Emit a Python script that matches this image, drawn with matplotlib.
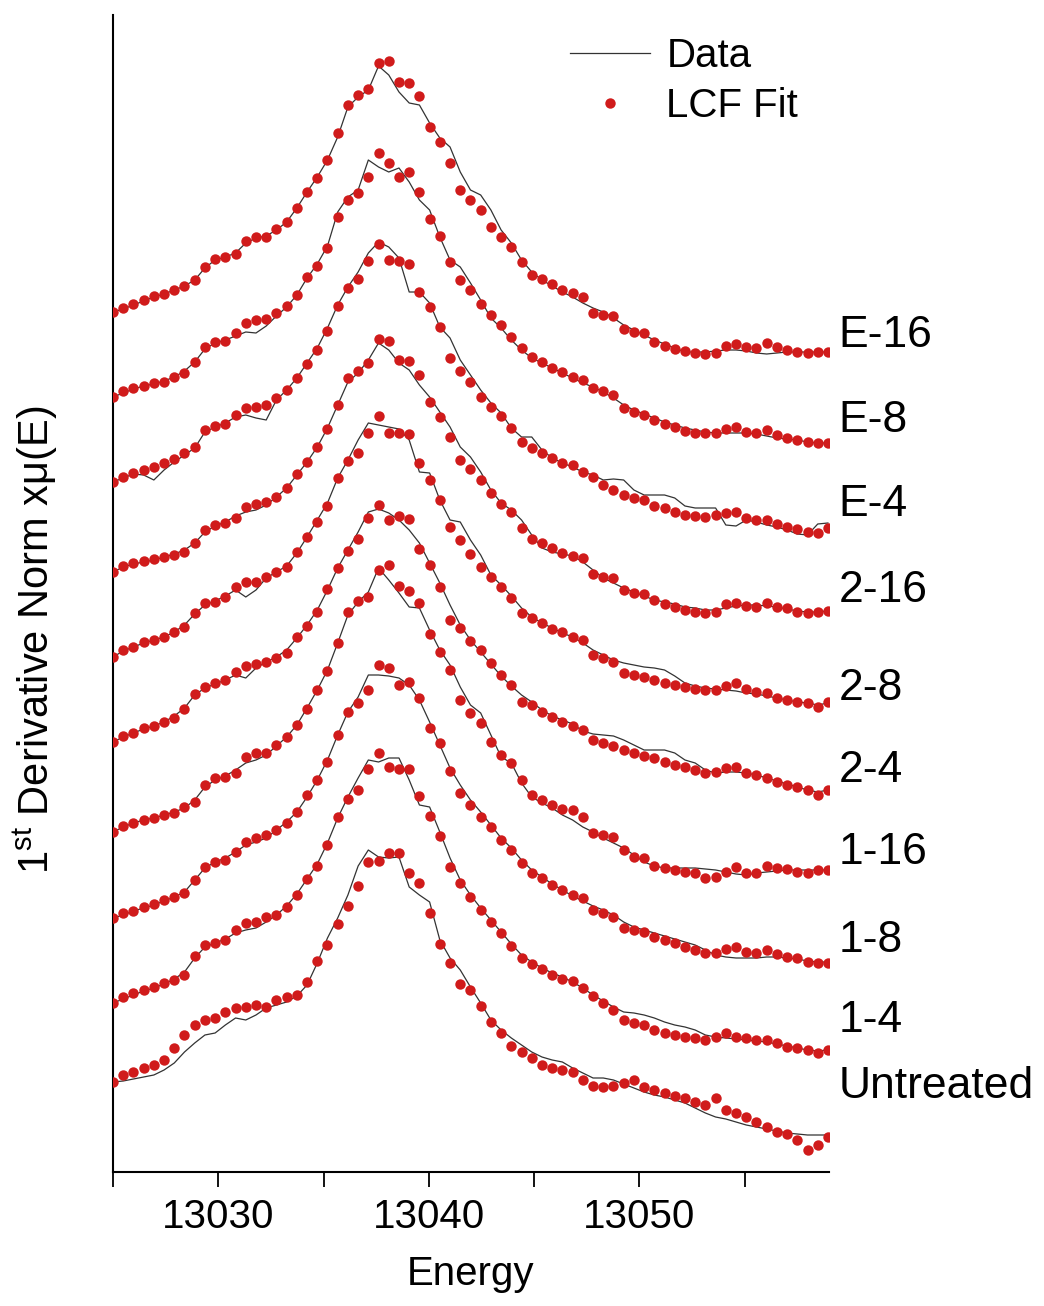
import numpy as np
import matplotlib.pyplot as plt

plt.rcParams['font.family'] = ['Liberation Sans', 'DejaVu Sans']
plt.rcParams['mathtext.fontset'] = 'custom'
plt.rcParams['mathtext.rm'] = 'Liberation Sans'

# energy grid (eV), 71 points
energy = 13025 + 0.485 * np.arange(71)

samples = ["E-16", "E-8", "E-4", "2-16", "2-8", "2-4", "1-16", "1-8", "1-4", "Untreated"]
offsets = [8.60, 7.75, 6.90, 6.00, 5.15, 4.30, 3.40, 2.54, 1.69, 0.90]

# 1st derivative, relative to first point (LCF fit = dots, data = line)
fit_e16 = [0.00, 0.04, 0.08, 0.12, 0.16, 0.18, 0.22, 0.26, 0.32, 0.45,
           0.53, 0.55, 0.58, 0.71, 0.75, 0.75, 0.83, 0.90, 1.04, 1.20,
           1.34, 1.52, 1.79, 2.07, 2.17, 2.23, 2.49, 2.51, 2.30, 2.29,
           2.16, 1.85, 1.70, 1.49, 1.22, 1.12, 1.02, 0.85, 0.75, 0.65,
           0.50, 0.37, 0.33, 0.28, 0.22, 0.19, 0.15, -0.01, -0.03, -0.04,
           -0.17, -0.20, -0.21, -0.30, -0.34, -0.37, -0.39, -0.41, -0.42, -0.41,
           -0.34, -0.32, -0.35, -0.36, -0.31, -0.35, -0.38, -0.40, -0.41, -0.40,
           -0.40]
data_e16 = [0.00, 0.03, 0.07, 0.11, 0.15, 0.18, 0.22, 0.26, 0.32, 0.44,
            0.52, 0.55, 0.59, 0.69, 0.74, 0.76, 0.82, 0.90, 1.04, 1.20,
            1.35, 1.52, 1.75, 2.05, 2.15, 2.22, 2.46, 2.37, 2.20, 2.09,
            2.07, 1.89, 1.74, 1.65, 1.40, 1.22, 1.17, 1.02, 0.82, 0.69,
            0.52, 0.40, 0.32, 0.26, 0.20, 0.15, 0.09, 0.04, 0.00, -0.06,
            -0.13, -0.18, -0.23, -0.28, -0.32, -0.36, -0.40, -0.40, -0.40, -0.39,
            -0.38, -0.38, -0.39, -0.41, -0.42, -0.41, -0.40, -0.40, -0.40, -0.40,
            -0.40]

fit_e8 = [0.00, 0.06, 0.09, 0.11, 0.14, 0.15, 0.20, 0.24, 0.35, 0.50,
          0.55, 0.56, 0.64, 0.74, 0.77, 0.78, 0.84, 0.91, 1.02, 1.20,
          1.31, 1.49, 1.80, 1.97, 2.04, 2.20, 2.44, 2.34, 2.20, 2.25,
          2.05, 1.78, 1.61, 1.35, 1.17, 1.07, 0.93, 0.82, 0.72, 0.60,
          0.49, 0.40, 0.35, 0.29, 0.25, 0.20, 0.17, 0.09, 0.06, 0.02,
          -0.11, -0.15, -0.18, -0.23, -0.27, -0.30, -0.34, -0.36, -0.36, -0.36,
          -0.32, -0.30, -0.35, -0.36, -0.33, -0.38, -0.41, -0.43, -0.45, -0.46,
          -0.46]
data_e8 = [0.00, 0.04, 0.08, 0.11, 0.13, 0.16, 0.20, 0.26, 0.35, 0.48,
           0.54, 0.57, 0.61, 0.65, 0.64, 0.71, 0.81, 0.90, 1.02, 1.19,
           1.33, 1.51, 1.85, 2.00, 2.07, 2.37, 2.30, 2.25, 2.29, 2.15,
           1.97, 1.87, 1.60, 1.37, 1.30, 1.14, 0.97, 0.79, 0.69, 0.57,
           0.47, 0.39, 0.34, 0.29, 0.24, 0.19, 0.14, 0.10, 0.05, -0.01,
           -0.08, -0.13, -0.17, -0.21, -0.25, -0.28, -0.31, -0.33, -0.35, -0.36,
           -0.36, -0.36, -0.36, -0.37, -0.39, -0.41, -0.42, -0.43, -0.45, -0.46,
           -0.46]

fit_e4 = [0.00, 0.05, 0.09, 0.12, 0.15, 0.19, 0.23, 0.29, 0.35, 0.52,
          0.56, 0.58, 0.67, 0.74, 0.75, 0.77, 0.84, 0.92, 1.04, 1.18,
          1.32, 1.51, 1.76, 1.94, 2.03, 2.21, 2.38, 2.22, 2.21, 2.18,
          1.90, 1.75, 1.55, 1.24, 1.11, 1.00, 0.85, 0.75, 0.66, 0.54,
          0.40, 0.34, 0.29, 0.24, 0.19, 0.17, 0.10, 0.05, -0.03, -0.08,
          -0.13, -0.16, -0.18, -0.24, -0.26, -0.30, -0.33, -0.34, -0.35, -0.33,
          -0.31, -0.30, -0.36, -0.38, -0.38, -0.42, -0.45, -0.47, -0.50, -0.51,
          -0.46]
data_e4 = [0.00, 0.04, 0.08, 0.07, 0.02, 0.12, 0.20, 0.27, 0.34, 0.50,
           0.55, 0.59, 0.65, 0.67, 0.64, 0.62, 0.82, 0.92, 1.04, 1.19,
           1.34, 1.54, 1.77, 1.95, 2.10, 2.29, 2.40, 2.35, 2.24, 1.90,
           1.90, 1.79, 1.55, 1.44, 1.22, 1.07, 0.92, 0.79, 0.69, 0.54,
           0.45, 0.45, 0.32, 0.24, 0.19, 0.15, 0.10, 0.07, 0.02, 0.03,
           0.02, -0.08, -0.13, -0.13, -0.13, -0.16, -0.24, -0.26, -0.26, -0.26,
           -0.43, -0.44, -0.38, -0.40, -0.43, -0.45, -0.48, -0.52, -0.53, -0.42,
           -0.41]

fit_216 = [0.00, 0.06, 0.09, 0.11, 0.13, 0.15, 0.17, 0.20, 0.29, 0.42,
           0.47, 0.49, 0.54, 0.65, 0.68, 0.70, 0.75, 0.84, 0.98, 1.10,
           1.25, 1.43, 1.67, 1.94, 2.01, 2.09, 2.33, 2.31, 2.12, 2.11,
           1.97, 1.70, 1.55, 1.35, 1.12, 1.03, 0.92, 0.79, 0.68, 0.60,
           0.44, 0.33, 0.29, 0.24, 0.19, 0.16, 0.14, -0.02, -0.05, -0.06,
           -0.18, -0.21, -0.22, -0.28, -0.32, -0.35, -0.38, -0.40, -0.41, -0.40,
           -0.32, -0.31, -0.34, -0.35, -0.31, -0.35, -0.36, -0.40, -0.41, -0.40,
           -0.39]
data_216 = [0.00, 0.05, 0.08, 0.10, 0.12, 0.15, 0.18, 0.22, 0.29, 0.40,
            0.46, 0.50, 0.56, 0.60, 0.62, 0.67, 0.75, 0.84, 0.97, 1.10,
            1.25, 1.44, 1.67, 1.90, 1.99, 2.12, 2.29, 2.22, 2.09, 2.02,
            1.87, 1.75, 1.60, 1.45, 1.25, 1.15, 1.00, 0.82, 0.69, 0.62,
            0.52, 0.37, 0.24, 0.20, 0.18, 0.16, 0.10, 0.02, -0.06, -0.11,
            -0.16, -0.20, -0.24, -0.28, -0.30, -0.32, -0.35, -0.36, -0.38, -0.38,
            -0.36, -0.34, -0.33, -0.33, -0.34, -0.35, -0.37, -0.39, -0.40, -0.40,
            -0.39]

fit_28 = [0.00, 0.07, 0.10, 0.15, 0.17, 0.20, 0.25, 0.30, 0.44, 0.54,
          0.55, 0.60, 0.70, 0.75, 0.75, 0.80, 0.85, 0.90, 1.05, 1.20,
          1.35, 1.51, 1.79, 1.96, 2.04, 2.24, 2.41, 2.24, 2.24, 2.23,
          1.94, 1.77, 1.57, 1.30, 1.17, 1.03, 0.90, 0.80, 0.70, 0.59,
          0.44, 0.39, 0.34, 0.28, 0.25, 0.20, 0.17, 0.02, -0.01, -0.05,
          -0.16, -0.18, -0.20, -0.23, -0.26, -0.28, -0.30, -0.32, -0.33, -0.33,
          -0.29, -0.26, -0.32, -0.35, -0.36, -0.41, -0.43, -0.45, -0.46, -0.50,
          -0.45]
data_28 = [0.00, 0.06, 0.10, 0.14, 0.17, 0.20, 0.25, 0.32, 0.43, 0.52,
           0.56, 0.61, 0.67, 0.60, 0.67, 0.79, 0.85, 0.91, 1.04, 1.20,
           1.37, 1.54, 1.79, 1.97, 2.17, 2.34, 2.32, 2.30, 2.28, 2.17,
           1.85, 1.84, 1.57, 1.37, 1.35, 1.17, 1.02, 0.82, 0.72, 0.61,
           0.49, 0.40, 0.34, 0.29, 0.24, 0.20, 0.14, 0.07, 0.02, -0.03,
           -0.06, -0.08, -0.10, -0.11, -0.13, -0.19, -0.26, -0.29, -0.31, -0.32,
           -0.33, -0.34, -0.36, -0.37, -0.39, -0.41, -0.43, -0.45, -0.46, -0.48,
           -0.46]

fit_24 = [0.00, 0.06, 0.09, 0.14, 0.16, 0.20, 0.24, 0.33, 0.48, 0.55,
          0.59, 0.62, 0.70, 0.76, 0.78, 0.80, 0.84, 0.89, 1.05, 1.16,
          1.30, 1.53, 1.74, 1.91, 2.03, 2.24, 2.37, 2.22, 2.26, 2.23,
          1.93, 1.77, 1.55, 1.22, 1.14, 1.01, 0.92, 0.79, 0.67, 0.57,
          0.40, 0.37, 0.30, 0.25, 0.20, 0.16, 0.12, 0.02, -0.01, -0.04,
          -0.08, -0.11, -0.14, -0.16, -0.20, -0.23, -0.25, -0.28, -0.31, -0.30,
          -0.26, -0.25, -0.31, -0.33, -0.36, -0.40, -0.43, -0.45, -0.48, -0.53,
          -0.48]
data_24 = [0.00, 0.05, 0.09, 0.13, 0.16, 0.20, 0.26, 0.34, 0.47, 0.54,
           0.58, 0.62, 0.67, 0.64, 0.74, 0.80, 0.85, 0.92, 1.04, 1.17,
           1.32, 1.52, 1.74, 1.92, 2.10, 2.30, 2.33, 2.29, 2.22, 2.12,
           1.99, 1.79, 1.59, 1.37, 1.17, 1.02, 0.90, 0.78, 0.66, 0.56,
           0.47, 0.40, 0.32, 0.26, 0.22, 0.18, 0.11, 0.08, 0.07, 0.06,
           0.02, -0.03, -0.08, -0.08, -0.08, -0.11, -0.18, -0.21, -0.28, -0.31,
           -0.30, -0.30, -0.31, -0.33, -0.36, -0.39, -0.42, -0.45, -0.48, -0.50,
           -0.48]

fit_116 = [0.00, 0.06, 0.09, 0.12, 0.14, 0.17, 0.19, 0.25, 0.30, 0.47,
           0.54, 0.55, 0.59, 0.75, 0.79, 0.79, 0.87, 0.95, 1.07, 1.23,
           1.42, 1.61, 1.89, 2.20, 2.31, 2.35, 2.62, 2.67, 2.46, 2.41,
           2.29, 1.98, 1.80, 1.62, 1.32, 1.19, 1.09, 0.90, 0.77, 0.69,
           0.52, 0.37, 0.32, 0.27, 0.23, 0.22, 0.15, -0.01, -0.03, -0.05,
           -0.18, -0.25, -0.26, -0.34, -0.36, -0.38, -0.40, -0.41, -0.46, -0.45,
           -0.40, -0.35, -0.41, -0.41, -0.34, -0.36, -0.37, -0.40, -0.41, -0.38,
           -0.38]
data_116 = [0.00, 0.05, 0.09, 0.12, 0.14, 0.17, 0.20, 0.24, 0.32, 0.45,
            0.52, 0.56, 0.62, 0.69, 0.72, 0.77, 0.86, 0.95, 1.07, 1.24,
            1.42, 1.62, 1.89, 2.17, 2.30, 2.40, 2.64, 2.52, 2.39, 2.25,
            2.24, 2.02, 1.82, 1.67, 1.45, 1.27, 1.19, 0.97, 0.75, 0.69,
            0.49, 0.35, 0.29, 0.24, 0.17, 0.12, 0.05, 0.00, -0.06, -0.11,
            -0.16, -0.23, -0.30, -0.34, -0.36, -0.36, -0.36, -0.36, -0.37, -0.38,
            -0.40, -0.42, -0.43, -0.41, -0.40, -0.39, -0.38, -0.38, -0.38, -0.38,
            -0.38]

fit_18 = [0.00, 0.05, 0.07, 0.11, 0.14, 0.18, 0.21, 0.25, 0.38, 0.51,
          0.56, 0.58, 0.66, 0.76, 0.80, 0.83, 0.88, 0.95, 1.06, 1.23,
          1.38, 1.56, 1.83, 2.06, 2.15, 2.28, 2.53, 2.50, 2.33, 2.36,
          2.20, 1.90, 1.75, 1.47, 1.25, 1.13, 1.01, 0.91, 0.78, 0.68,
          0.55, 0.45, 0.40, 0.33, 0.28, 0.23, 0.20, 0.08, 0.05, 0.01,
          -0.10, -0.12, -0.14, -0.19, -0.22, -0.25, -0.29, -0.32, -0.35, -0.35,
          -0.31, -0.29, -0.34, -0.35, -0.32, -0.36, -0.39, -0.40, -0.44, -0.45,
          -0.45]
data_18 = [0.00, 0.03, 0.07, 0.10, 0.13, 0.17, 0.21, 0.26, 0.38, 0.50,
           0.56, 0.60, 0.66, 0.73, 0.76, 0.80, 0.88, 0.96, 1.06, 1.21,
           1.38, 1.58, 1.83, 2.06, 2.21, 2.43, 2.43, 2.42, 2.40, 2.33,
           2.18, 1.96, 1.73, 1.50, 1.33, 1.18, 1.06, 0.93, 0.80, 0.70,
           0.58, 0.48, 0.41, 0.34, 0.28, 0.22, 0.17, 0.12, 0.08, 0.03,
           -0.04, -0.09, -0.12, -0.15, -0.18, -0.21, -0.24, -0.27, -0.32, -0.37,
           -0.39, -0.40, -0.40, -0.40, -0.39, -0.39, -0.40, -0.41, -0.43, -0.44,
           -0.44]

fit_14 = [0.00, 0.06, 0.10, 0.13, 0.16, 0.20, 0.23, 0.28, 0.47, 0.58,
          0.60, 0.63, 0.73, 0.80, 0.81, 0.86, 0.88, 0.96, 1.08, 1.24,
          1.37, 1.58, 1.86, 2.04, 2.13, 2.34, 2.50, 2.36, 2.34, 2.34,
          2.07, 1.87, 1.67, 1.36, 1.20, 1.06, 0.93, 0.81, 0.70, 0.57,
          0.45, 0.39, 0.34, 0.28, 0.24, 0.22, 0.15, 0.07, 0.00, -0.07,
          -0.17, -0.20, -0.22, -0.27, -0.30, -0.32, -0.34, -0.35, -0.37, -0.34,
          -0.30, -0.34, -0.35, -0.37, -0.37, -0.40, -0.44, -0.45, -0.47, -0.50,
          -0.47]
data_14 = [0.00, 0.04, 0.08, 0.12, 0.15, 0.19, 0.24, 0.31, 0.45, 0.56,
           0.60, 0.64, 0.70, 0.73, 0.75, 0.81, 0.88, 0.97, 1.09, 1.24,
           1.39, 1.60, 1.85, 2.06, 2.25, 2.43, 2.41, 2.45, 2.45, 2.23,
           1.98, 1.96, 1.71, 1.45, 1.23, 1.08, 0.95, 0.83, 0.71, 0.59,
           0.48, 0.41, 0.35, 0.30, 0.26, 0.21, 0.15, 0.08, 0.02, -0.04,
           -0.09, -0.10, -0.12, -0.15, -0.19, -0.22, -0.24, -0.27, -0.32, -0.34,
           -0.35, -0.36, -0.37, -0.38, -0.39, -0.41, -0.43, -0.45, -0.47, -0.48,
           -0.47]

fit_untr = [0.00, 0.07, 0.10, 0.14, 0.17, 0.22, 0.34, 0.47, 0.57, 0.62,
            0.64, 0.70, 0.74, 0.75, 0.77, 0.75, 0.82, 0.85, 0.87, 1.00,
            1.21, 1.37, 1.58, 1.76, 1.96, 2.20, 2.21, 2.29, 2.29, 2.09,
            1.99, 1.69, 1.38, 1.19, 0.98, 0.92, 0.76, 0.60, 0.49, 0.36,
            0.30, 0.24, 0.17, 0.14, 0.12, 0.10, 0.02, -0.04, -0.05, -0.04,
            -0.01, 0.02, -0.05, -0.08, -0.11, -0.14, -0.16, -0.20, -0.23, -0.16,
            -0.28, -0.31, -0.35, -0.40, -0.45, -0.50, -0.52, -0.58, -0.68, -0.63,
            -0.55]
data_untr = [0.00, 0.01, 0.03, 0.05, 0.07, 0.12, 0.19, 0.30, 0.39, 0.47,
             0.49, 0.57, 0.64, 0.62, 0.67, 0.74, 0.77, 0.80, 0.86, 0.97,
             1.19, 1.44, 1.64, 1.87, 2.16, 2.32, 2.25, 2.24, 2.25, 1.95,
             1.87, 1.80, 1.42, 1.24, 1.12, 0.95, 0.79, 0.62, 0.52, 0.44,
             0.37, 0.30, 0.25, 0.22, 0.20, 0.14, 0.09, 0.04, 0.04, 0.02,
             -0.02, -0.06, -0.10, -0.13, -0.15, -0.18, -0.21, -0.26, -0.31, -0.35,
             -0.37, -0.40, -0.43, -0.45, -0.47, -0.49, -0.51, -0.52, -0.53, -0.53,
             -0.53]

fits = [fit_e16, fit_e8, fit_e4, fit_216, fit_28, fit_24, fit_116, fit_18, fit_14, fit_untr]
datas = [data_e16, data_e8, data_e4, data_216, data_28, data_24, data_116, data_18, data_14, data_untr]

# label heights relative to each curve offset
label_dy = [-0.23, -0.23, -0.23, -0.18, -0.31, -0.28, -0.21, -0.22, -0.17, -0.05]

fig = plt.figure(figsize=(10.44, 13.06), dpi=100)
ax = fig.add_axes([113/1044, 134/1306, 716/1044, 1157/1306])

for i, name in enumerate(samples):
    d = np.array(datas[i]) + offsets[i]
    f = np.array(fits[i]) + offsets[i]
    ax.plot(energy, d, color='#333333', lw=0.9, zorder=2,
            label='Data' if i == 0 else None)
    ax.plot(energy, f, 'o', color='#d01b1b', ms=7.5, mew=0, zorder=3,
            label='LCF Fit' if i == 0 else None)
    ax.text(13059.45, offsets[i] + label_dy[i], name, fontsize=32,
            ha='left', va='center', clip_on=False)

ax.set_xlim(13025, 13059)
ax.set_ylim(0, 11.57)

ax.spines['top'].set_visible(False)
ax.spines['right'].set_visible(False)
ax.spines['left'].set_linewidth(1.5)
ax.spines['bottom'].set_linewidth(1.5)
ax.set_yticks([])
ax.set_xticks([13030, 13040, 13050])
ax.set_xticks([13025, 13035, 13045, 13055], minor=True)
ax.tick_params(axis='x', which='both', direction='out', length=11, width=1.3,
               labelsize=29, pad=8)

ax.set_xlabel('Energy', fontsize=29)
ax.xaxis.set_label_coords(0.5, -0.072)
ax.set_ylabel(r'1$^{\mathrm{st}}$ Derivative Norm xμ(E)', fontsize=30)
ax.yaxis.set_label_coords(-0.074, 0.46)

ax.legend(loc='upper left', bbox_to_anchor=(0.638, 0.981), frameon=False,
          fontsize=29, handlelength=2.0, handletextpad=0.4, labelspacing=0.3,
          borderpad=0, borderaxespad=0)

plt.savefig('out.png', dpi=100)
